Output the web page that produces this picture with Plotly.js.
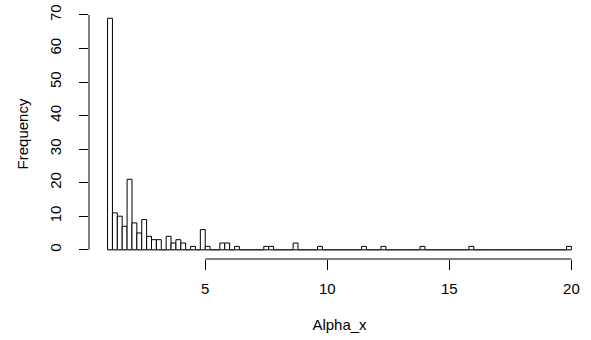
<!DOCTYPE html>
<html>
<head>
<meta charset="utf-8">
<script src="https://cdn.plot.ly/plotly-3.0.1.min.js"></script>
<style>
  html, body { margin: 0; padding: 0; background: #fff; }
  #chart { width: 591px; height: 340px; }
</style>
</head>
<body>
<div id="chart"></div>
<script>
// Histogram of Alpha_x: bins of width 0.2 starting at 1.0
const binStart = 1.0;
const binWidth = 0.2;
const counts = [
  69, 11, 10, 7, 21, 8, 5, 9, 4, 3,      // 1.0 - 3.0
  3, 0, 4, 2, 3, 2, 0, 1, 0, 6,          // 3.0 - 5.0
  1, 0, 0, 2, 2, 0, 1, 0, 0, 0,          // 5.0 - 7.0
  0, 0, 1, 1, 0, 0, 0, 0, 2, 0,          // 7.0 - 9.0
  0, 0, 0, 1, 0, 0, 0, 0, 0, 0,          // 9.0 - 11.0
  0, 0, 1, 0, 0, 0, 1, 0, 0, 0,          // 11.0 - 13.0
  0, 0, 0, 0, 1, 0, 0, 0, 0, 0,          // 13.0 - 15.0
  0, 0, 0, 0, 1, 0, 0, 0, 0, 0,          // 15.0 - 17.0
  0, 0, 0, 0, 0, 0, 0, 0, 0, 0,          // 17.0 - 19.0
  0, 0, 0, 0, 1                          // 19.0 - 20.0
];
const xTicks = [5, 10, 15, 20];
const yTicks = [0, 10, 20, 30, 40, 50, 60, 70];
const xLabel = "Alpha_x";
const yLabel = "Frequency";

const centers = counts.map((_, i) => binStart + binWidth * (i + 0.5));
const binEnd = binStart + binWidth * counts.length;

const FONT = { family: "Liberation Sans, Arial, sans-serif", size: 15, color: "#000" };

const trace = {
  type: "bar",
  x: centers,
  y: counts,
  width: binWidth,
  marker: { color: "#ffffff", line: { color: "#000000", width: 1 } },
  hoverinfo: "x+y"
};

const layout = {
  width: 591,
  height: 340,
  margin: { l: 89, r: 1, t: 9, b: 81 },
  paper_bgcolor: "#fff",
  plot_bgcolor: "#fff",
  font: FONT,
  showlegend: false,
  bargap: 0,
  xaxis: {
    range: [0.24, 20.76],
    tickvals: xTicks,
    ticktext: xTicks.map(String),
    ticks: "outside",
    ticklen: 10,
    tickwidth: 1,
    tickcolor: "#000",
    showline: false,
    showgrid: false,
    zeroline: false,
    tickfont: FONT,
    ticklabelstandoff: 6,
    title: { text: xLabel, font: FONT, standoff: 23 }
  },
  yaxis: {
    range: [-2.76, 71.76],
    tickvals: yTicks,
    ticktext: yTicks.map(String),
    tickangle: -90,
    ticks: "outside",
    ticklen: 9,
    tickwidth: 1,
    tickcolor: "#000",
    showline: false,
    showgrid: false,
    zeroline: false,
    tickfont: FONT,
    ticklabelstandoff: 12,
    title: { text: yLabel, font: FONT, standoff: 14 }
  },
  shapes: [
    // x axis line spans first to last tick
    { type: "line", xref: "x", yref: "paper", x0: xTicks[0], x1: xTicks[xTicks.length - 1], y0: 0, y1: 0,
      line: { color: "#000", width: 1 } },
    // y axis line spans first to last tick
    { type: "line", xref: "paper", yref: "y", x0: 0, x1: 0, y0: yTicks[0], y1: yTicks[yTicks.length - 1],
      line: { color: "#000", width: 1 } },
    // baseline under the bins (empty bins)
    { type: "line", xref: "x", yref: "y", x0: binStart, x1: binEnd, y0: 0, y1: 0,
      line: { color: "#444", width: 1 } }
  ]
};

Plotly.newPlot("chart", [trace], layout, { displayModeBar: false, staticPlot: true });
</script>
</body>
</html>
